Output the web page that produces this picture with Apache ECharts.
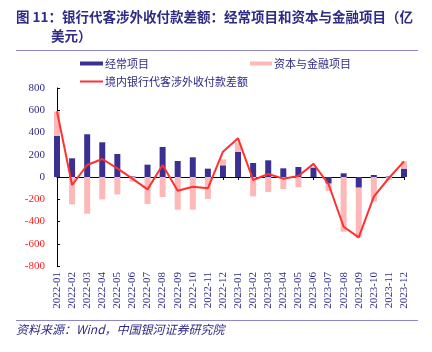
<!DOCTYPE html>
<html><head><meta charset="utf-8">
<script src="https://cdn.jsdelivr.net/npm/echarts@6/dist/echarts.min.js"></script>
<style>html,body{margin:0;padding:0;background:#fff}#c{width:432px;height:352px}</style>
</head><body><div id="c"></div>
<script>
const categories = ['2022-01','2022-02','2022-03','2022-04','2022-05','2022-06','2022-07','2022-08','2022-09','2022-10','2022-11','2022-12','2023-01','2023-02','2023-03','2023-04','2023-05','2023-06','2023-07','2023-08','2023-09','2023-10','2023-11','2023-12'];
const currentAccount = [369,168,384,312,207,5,111,270,144,177,75,105,225,126,150,78,90,84,-60,33,-96,18,5,75];
const capitalAccount = [220,-246,-330,-201,-156,-42,-242,-180,-294,-294,-198,54,85,-174,-135,-108,-93,0,-66,-492,-450,-222,-27,66];
const netBalance = [590,-72,108,162,78,-15,-111,108,-123,-87,-102,228,348,-27,27,-15,9,118,-65,-447,-543,-177,-9,140];
const yTicks = {min:-800, max:800, interval:200};

const navy = '#2E2B86';
const chart = echarts.init(document.getElementById('c'));
chart.setOption({
  animation:false,
  grid:{left:57,right:28,top:88,bottom:86},
  graphic:[
    {type:'text',left:16,top:10,style:{text:'图 11：银行代客涉外收付款差额：经常项目和资本与金融项目（亿',fill:navy,font:'bold 13.5px "Noto Sans CJK SC"'}},
    {type:'text',left:51,top:29,style:{text:'美元）',fill:navy,font:'bold 13.5px "Noto Sans CJK SC"'}},
    {type:'line',shape:{x1:16,y1:50.5,x2:418,y2:50.5},style:{stroke:'#8C88C8',lineWidth:1}},
    {type:'line',shape:{x1:16,y1:320.5,x2:418,y2:320.5},style:{stroke:'#8C88C8',lineWidth:1}},
    {type:'text',left:16,top:323,style:{text:'资料来源：Wind，中国银河证券研究院',fill:navy,font:'italic 12px "Noto Sans CJK SC"'}}
  ],
  legend:[
    {data:['经常项目'],left:80,top:58,padding:0,itemWidth:23,itemHeight:4,itemGap:0,icon:'rect',textStyle:{color:navy,fontSize:11,fontFamily:'Noto Sans CJK SC',padding:[0,0,0,-3]}},
    {data:['资本与金融项目'],left:250,top:58,padding:0,itemWidth:22,itemHeight:4,itemGap:0,icon:'rect',textStyle:{color:navy,fontSize:11,fontFamily:'Noto Sans CJK SC',padding:[0,0,0,-3]}},
    {data:['境内银行代客涉外收付款差额'],left:80,top:76,padding:0,itemWidth:23,itemHeight:2,itemGap:0,icon:'rect',textStyle:{color:navy,fontSize:11,fontFamily:'Noto Sans CJK SC',padding:[0,0,0,-3]}}
  ],
  xAxis:[
    {type:'category',data:categories,boundaryGap:false,position:'bottom',
     axisLine:{show:false,onZero:false},axisTick:{show:false},
     axisLabel:{rotate:90,interval:0,color:navy,fontSize:11,fontFamily:'Liberation Serif',margin:6}},
    {type:'category',data:categories,boundaryGap:false,position:'bottom',
     axisLine:{show:true,onZero:true,lineStyle:{color:'#000',width:1}},
     axisTick:{show:true,length:3,inside:false,interval:0,lineStyle:{color:'#000'}},
     axisLabel:{show:false}}
  ],
  yAxis:{type:'value',min:yTicks.min,max:yTicks.max,interval:yTicks.interval,
    splitLine:{show:false},
    axisLine:{show:true,onZero:false,lineStyle:{color:'#000',width:1}},
    axisTick:{show:true,inside:true,length:3,lineStyle:{color:'#000'}},
    axisLabel:{margin:12,fontSize:11,fontFamily:'Liberation Serif',
      formatter:function(v){return v<0?'{n|'+v+'}':'{p|'+v+'}';},
      rich:{n:{color:'#FF2020',fontSize:11,fontFamily:'Liberation Serif'},p:{color:navy,fontSize:11,fontFamily:'Liberation Serif'}}}},
  series:[
    {name:'经常项目',type:'bar',stack:'s',data:currentAccount,barWidth:6,itemStyle:{color:'#3A3092'}},
    {name:'资本与金融项目',type:'bar',stack:'s',data:capitalAccount,barWidth:6,itemStyle:{color:'#FFB8B8'}},
    {name:'境内银行代客涉外收付款差额',type:'line',data:netBalance,symbol:'none',lineStyle:{color:'#FF3030',width:2},itemStyle:{color:'#FF3030'},z:5}
  ]
});
</script></body></html>
